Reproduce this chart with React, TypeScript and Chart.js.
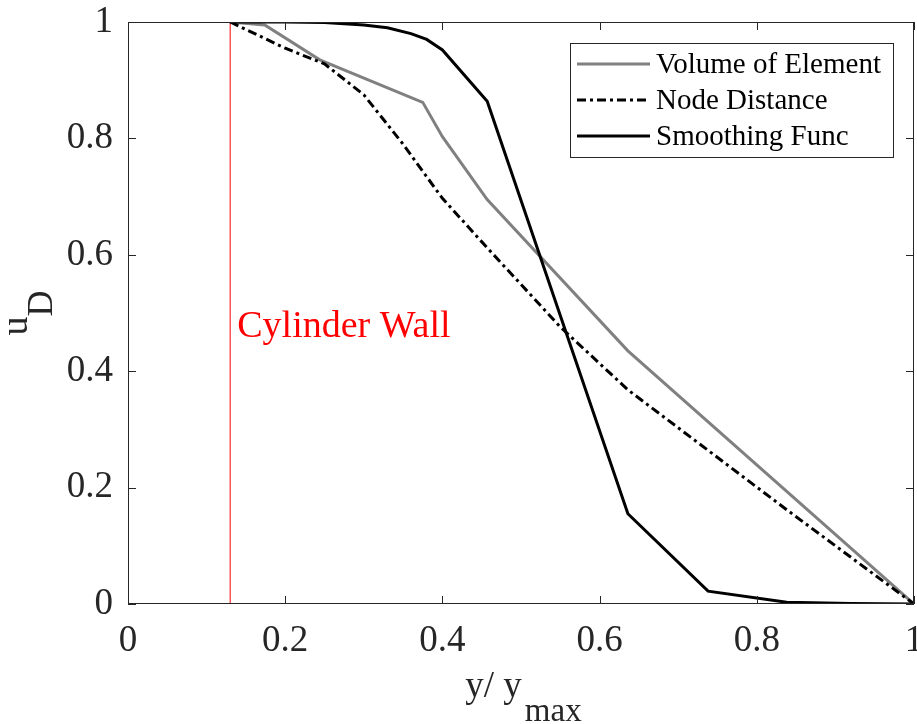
import React, { useEffect, useRef } from "react";
import { Chart, registerables } from "chart.js";

Chart.register(...registerables);

const SERIES_NAMES = ["Volume of Element", "Node Distance", "Smoothing Func"];

const X_VOLUME = [0.13, 0.174, 0.244, 0.375, 0.4, 0.457, 0.636, 1];
const Y_VOLUME = [1, 0.995, 0.935, 0.862, 0.803, 0.695, 0.435, 0];

const X_NODE = [0.13, 0.2, 0.25, 0.3, 0.35, 0.4, 0.457, 0.55, 0.636, 0.74, 0.84, 1];
const Y_NODE = [1, 0.955, 0.928, 0.875, 0.79, 0.697, 0.612, 0.476, 0.368, 0.262, 0.16, 0];

const X_SMOOTH = [0.13, 0.2, 0.25, 0.3, 0.33, 0.36, 0.38, 0.4, 0.457, 0.636, 0.738, 0.838, 0.92, 1];
const Y_SMOOTH = [1, 1, 0.999, 0.995, 0.99, 0.98, 0.97, 0.952, 0.864, 0.155, 0.022, 0.003, 0.001, 0];

const WALL_X = [0.13, 0.13];
const WALL_Y = [0, 1];
const WALL_LABEL = "Cylinder Wall";
const WALL_LABEL_POS = [0.139, 0.459];

const X_TICK_VALUES = [0, 0.2, 0.4, 0.6, 0.8, 1];
const X_TICK_LABELS = ["0", "0.2", "0.4", "0.6", "0.8", "1"];
const Y_TICK_VALUES = [0, 0.2, 0.4, 0.6, 0.8, 1];
const Y_TICK_LABELS = ["0", "0.2", "0.4", "0.6", "0.8", "1"];

const X_TITLE = ["y/ y", "max"];
const Y_TITLE = ["u", "D"];

const FONT = '"Liberation Serif", "Times New Roman", serif';
const AXIS_COLOR = "#262626";

const pts = (xs: number[], ys: number[]) => xs.map((x, i) => ({ x, y: ys[i] }));

const decorPlugin = {
  id: "decor",
  afterDatasetsDraw(chart: any) {
    const { ctx, chartArea: a, scales } = chart;
    const xs = scales.x;
    const ys = scales.y;
    ctx.save();
    // box
    ctx.strokeStyle = AXIS_COLOR;
    ctx.lineWidth = 1;
    ctx.strokeRect(a.left + 0.5, a.top + 0.5, a.right - a.left - 1, a.bottom - a.top - 1);
    // ticks inside
    const tl = 8;
    ctx.beginPath();
    X_TICK_VALUES.forEach((v) => {
      const px = Math.round(xs.getPixelForValue(v)) + 0.5;
      ctx.moveTo(px, a.bottom);
      ctx.lineTo(px, a.bottom - tl);
      ctx.moveTo(px, a.top);
      ctx.lineTo(px, a.top + tl);
    });
    Y_TICK_VALUES.forEach((v) => {
      const py = Math.round(ys.getPixelForValue(v)) + 0.5;
      ctx.moveTo(a.left, py);
      ctx.lineTo(a.left + tl, py);
      ctx.moveTo(a.right, py);
      ctx.lineTo(a.right - tl, py);
    });
    ctx.stroke();

    // wall label
    ctx.fillStyle = "#ff0000";
    ctx.font = `38px ${FONT}`;
    ctx.textAlign = "left";
    ctx.textBaseline = "alphabetic";
    ctx.fillText(WALL_LABEL, xs.getPixelForValue(WALL_LABEL_POS[0]), ys.getPixelForValue(WALL_LABEL_POS[1]));

    // x title
    ctx.fillStyle = AXIS_COLOR;
    ctx.font = `37px ${FONT}`;
    const mainW = ctx.measureText(X_TITLE[0]).width;
    ctx.font = `33px ${FONT}`;
    const subW = ctx.measureText(X_TITLE[1]).width;
    const cx = (a.left + a.right) / 2;
    const startX = cx - (mainW + subW + 2) / 2 + 2;
    ctx.font = `37px ${FONT}`;
    ctx.fillText(X_TITLE[0], startX, 697);
    ctx.font = `33px ${FONT}`;
    ctx.fillText(X_TITLE[1], startX + mainW + 3, 721);

    // y title (rotated)
    ctx.save();
    const cy = (a.top + a.bottom) / 2;
    ctx.translate(27, cy);
    ctx.rotate(-Math.PI / 2);
    ctx.font = `38px ${FONT}`;
    const uW = ctx.measureText(Y_TITLE[0]).width;
    ctx.font = `36px ${FONT}`;
    const dW = ctx.measureText(Y_TITLE[1]).width;
    const sx = -(uW + dW) / 2;
    ctx.font = `38px ${FONT}`;
    ctx.fillText(Y_TITLE[0], sx, 0);
    ctx.font = `36px ${FONT}`;
    ctx.fillText(Y_TITLE[1], sx + uW, 25);
    ctx.restore();

    // legend
    const lx = 570, ly = 43, lw = 323, lh = 114;
    ctx.fillStyle = "#ffffff";
    ctx.fillRect(lx, ly, lw, lh);
    ctx.strokeStyle = AXIS_COLOR;
    ctx.lineWidth = 1;
    ctx.strokeRect(lx + 0.5, ly + 0.5, lw, lh);
    const rows = [64, 100, 136];
    ctx.font = `29px ${FONT}`;
    ctx.textBaseline = "middle";
    SERIES_NAMES.forEach((name, i) => {
      const ds = chart.data.datasets[i];
      ctx.strokeStyle = ds.borderColor;
      ctx.lineWidth = ds.borderWidth;
      ctx.setLineDash(ds.borderDash || []);
      ctx.beginPath();
      ctx.moveTo(577, rows[i]);
      ctx.lineTo(650, rows[i]);
      ctx.stroke();
      ctx.setLineDash([]);
      ctx.fillStyle = "#000000";
      ctx.fillText(name, 656, rows[i] + 1);
    });
    ctx.restore();
  },
};

export default function App() {
  const ref = useRef<HTMLCanvasElement | null>(null);
  useEffect(() => {
    if (!ref.current) return;
    const tickFont = { family: FONT, size: 37 };
    const chart = new Chart(ref.current, {
      type: "scatter",
      data: {
        datasets: [
          {
            label: SERIES_NAMES[0],
            data: pts(X_VOLUME, Y_VOLUME),
            showLine: true,
            borderColor: "#808080",
            backgroundColor: "#808080",
            borderWidth: 3,
            pointRadius: 0,
            order: 3,
          },
          {
            label: SERIES_NAMES[1],
            data: pts(X_NODE, Y_NODE),
            showLine: true,
            borderColor: "#000000",
            backgroundColor: "#000000",
            borderWidth: 3,
            borderDash: [9, 4, 3, 4],
            pointRadius: 0,
            order: 2,
          },
          {
            label: SERIES_NAMES[2],
            data: pts(X_SMOOTH, Y_SMOOTH),
            showLine: true,
            borderColor: "#000000",
            backgroundColor: "#000000",
            borderWidth: 3,
            pointRadius: 0,
            order: 1,
          },
          {
            label: "wall",
            data: pts(WALL_X, WALL_Y),
            showLine: true,
            borderColor: "#ff0000",
            backgroundColor: "#ff0000",
            borderWidth: 1,
            pointRadius: 0,
            order: 4,
          },
        ],
      },
      options: {
        animation: false,
        responsive: false,
        maintainAspectRatio: false,
        layout: { padding: { top: 22, right: 3, left: 0, bottom: 0 } },
        plugins: { legend: { display: false }, tooltip: { enabled: false } },
        scales: {
          x: {
            type: "linear",
            min: 0,
            max: 1,
            afterBuildTicks: (s: any) => {
              s.ticks = X_TICK_VALUES.map((v) => ({ value: v }));
            },
            ticks: {
              font: tickFont,
              color: AXIS_COLOR,
              padding: 15,
              maxRotation: 0,
              autoSkip: false,
              callback: (v: any) => X_TICK_LABELS[X_TICK_VALUES.indexOf(Number(v))] ?? "",
            },
            grid: { display: false, drawTicks: false },
            border: { display: false },
            afterFit: (s: any) => {
              s.height = 120;
              s.paddingLeft = 0;
              s.paddingRight = 0;
            },
          },
          y: {
            type: "linear",
            min: 0,
            max: 1,
            afterBuildTicks: (s: any) => {
              s.ticks = Y_TICK_VALUES.map((v) => ({ value: v }));
            },
            ticks: {
              font: tickFont,
              color: AXIS_COLOR,
              padding: 15,
              autoSkip: false,
              callback: (v: any) => Y_TICK_LABELS[Y_TICK_VALUES.indexOf(Number(v))] ?? "",
            },
            grid: { display: false, drawTicks: false },
            border: { display: false },
            afterFit: (s: any) => {
              s.width = 128;
              s.paddingTop = 0;
              s.paddingBottom = 0;
            },
          },
        },
      },
      plugins: [decorPlugin],
    } as any);
    return () => chart.destroy();
  }, []);
  return (
    <div style={{ position: "absolute", left: 0, top: 0, width: 917, height: 724, background: "#fff" }}>
      <canvas ref={ref} width={917} height={724} style={{ width: 917, height: 724 }} />
    </div>
  );
}
